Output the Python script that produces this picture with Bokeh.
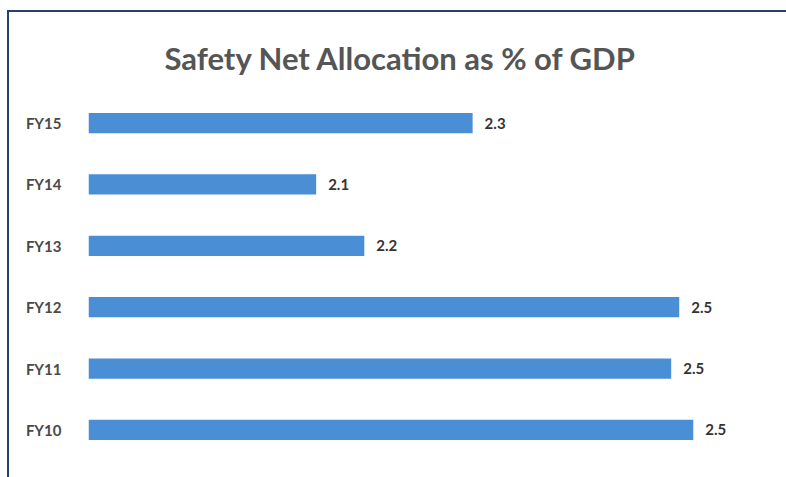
from bokeh.plotting import figure
from bokeh.models import Range1d, ColumnDataSource
from bokeh.core.properties import value
from bokeh.embed import file_html
from bokeh.resources import INLINE

# Data (bottom to top)
years = ["FY10", "FY11", "FY12", "FY13", "FY14", "FY15"]
shares = [2.503, 2.481, 2.489, 2.175, 2.127, 2.283]
labels = ["2.5", "2.5", "2.5", "2.2", "2.1", "2.3"]
axis_start = 1.9

src = ColumnDataSource(dict(y=years, v=shares, lab=labels,
                            left=[axis_start] * len(years)))

p = figure(width=779, height=467, y_range=years,
           x_range=Range1d(axis_start, 2.582),
           output_backend="svg", toolbar_location=None,
           min_border_left=79, min_border_right=16,
           min_border_top=86, min_border_bottom=27)
p.styles = {"margin-left": "7px", "margin-top": "10px",
            "border-left": "2px solid #23406e",
            "border-top": "2px solid #23406e",
            "box-sizing": "border-box"}

p.title.text = "Safety Net Allocation as % of GDP"
p.title.align = "left"
p.title.offset = 76
p.title.text_font = "Lato"
p.title.text_font_size = "31px"
p.title.text_font_style = "bold"
p.title.text_color = "#555555"
p.title.standoff = 48

p.y_range.range_padding = -0.0437
p.hbar(y="y", left="left", right="v", height=0.33, source=src,
       fill_color="#4a8fd6", line_color=None)
p.text(x="v", y="y", text="lab", source=src, x_offset=12,
       text_baseline="middle", text_align="left",
       text_font=value("Lato"), text_font_size="15px",
       text_font_style="bold", text_color="#333333")

p.xaxis.visible = False
p.yaxis.axis_line_color = None
p.yaxis.major_tick_line_color = None
p.yaxis.minor_tick_line_color = None
p.yaxis.major_label_standoff = 21
p.yaxis.major_label_text_font = "Lato"
p.yaxis.major_label_text_font_size = "15px"
p.yaxis.major_label_text_font_style = "bold"
p.yaxis.major_label_text_color = "#4a4a4a"
p.xgrid.visible = False
p.ygrid.visible = False
p.outline_line_color = None

open("out.html", "w").write(file_html(p, INLINE))
